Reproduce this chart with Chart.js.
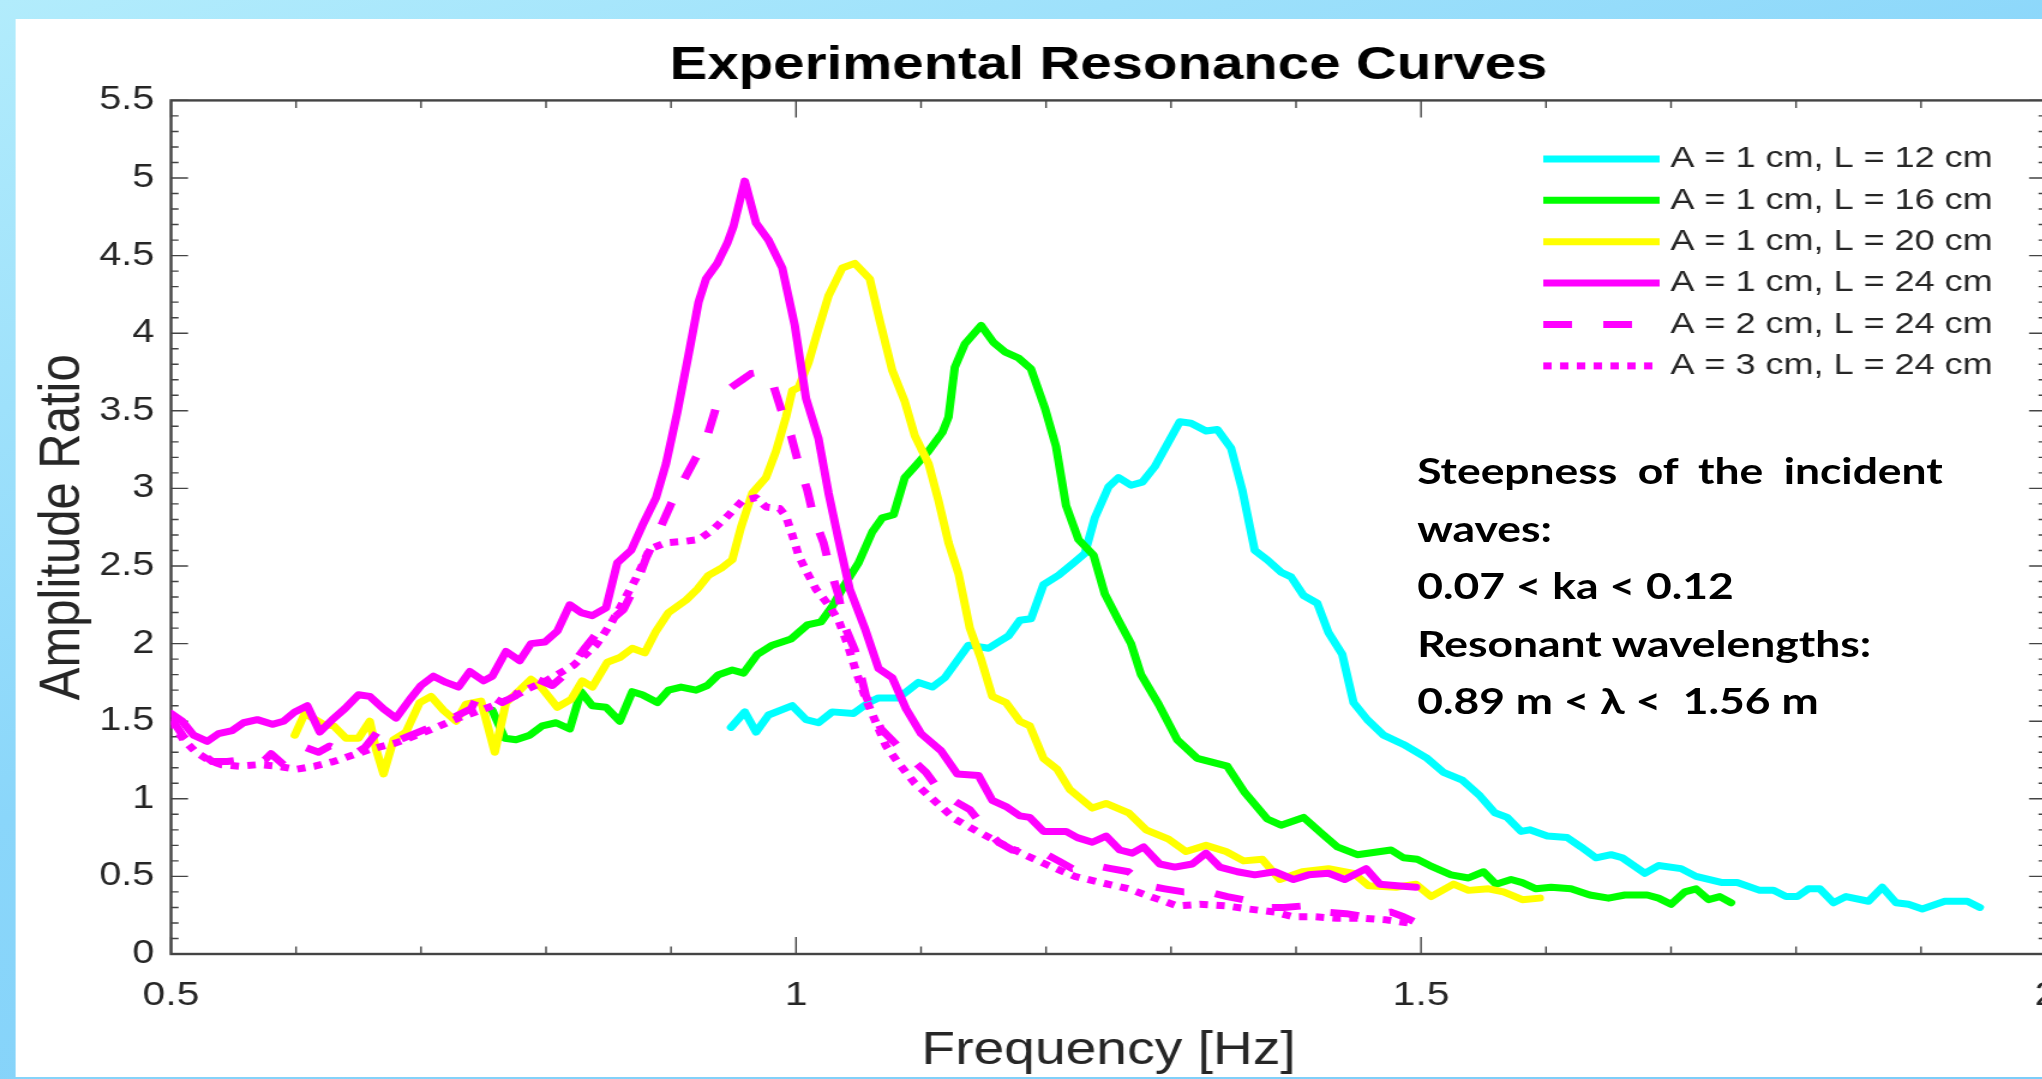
<!DOCTYPE html>
<html>
<head>
<meta charset="utf-8">
<title>Experimental Resonance Curves</title>
<script src="https://cdn.jsdelivr.net/npm/chart.js@4.4.1/dist/chart.umd.min.js"></script>
<style>
    html, body { margin: 0; padding: 0; width: 2042px; height: 1079px; overflow: hidden; }
    body { background: linear-gradient(160deg, #b2ecfc 0%, #8ad6fa 45%, #7ccdf9 100%); }
    /* the source slide is stretched sideways, so the whole stage is too */
    #stage { position: absolute; left: 0; top: 0; width: 1705px; height: 1079px; transform: scaleX(1.2); transform-origin: 0 0; }
    #panel { position: absolute; left: 13.3px; top: 19px; width: 1700px; height: 1058px; background: #fff; }
    #cnv { position: absolute; left: 0; top: 0; }
    #note { position: absolute; left: 1181px; top: 441px; width: 438px; font-family: Lato, "Open Sans", sans-serif; font-weight: 700; font-size: 37px; line-height: 57.5px; color: #000; }
    #note .just { text-align: justify; text-align-last: justify; }
</style>
</head>
<body>
<div id="stage">
    <div id="panel"></div>
    <canvas id="cnv" width="1705" height="1079"></canvas>
    <div id="note">
        <div class="just">Steepness of the incident</div>
        <div>waves:</div>
        <div>0.07 &lt; ka &lt; 0.12</div>
        <div>Resonant wavelengths:</div>
        <div>0.89 m &lt; &#955; &lt;&nbsp; 1.56 m</div>
    </div>
</div>
<script>
//--------------------------------------
// Data (frequency in Hz, amplitude ratio)
//--------------------------------------
var seriesLabels = [
    "A = 1 cm, L = 12 cm",
    "A = 1 cm, L = 16 cm",
    "A = 1 cm, L = 20 cm",
    "A = 1 cm, L = 24 cm",
    "A = 2 cm, L = 24 cm",
    "A = 3 cm, L = 24 cm"
];

var freqL12 = [0.948,0.959,0.968,0.978,0.997,1.008,1.018,1.029,1.046,1.058,1.066,1.082,1.098,1.109,1.119,1.138,1.154,1.162,1.170,1.179,1.188,1.198,1.210,1.222,1.231,1.239,1.250,1.258,1.268,1.277,1.287,1.307,1.316,1.328,1.337,1.348,1.357,1.367,1.377,1.388,1.396,1.406,1.417,1.426,1.437,1.446,1.457,1.470,1.486,1.505,1.518,1.533,1.547,1.559,1.569,1.580,1.587,1.601,1.617,1.628,1.640,1.652,1.661,1.679,1.690,1.708,1.720,1.741,1.753,1.771,1.782,1.792,1.801,1.810,1.819,1.830,1.840,1.858,1.869,1.880,1.890,1.901,1.919,1.937,1.947];
var ampL12 = [1.46,1.56,1.43,1.54,1.60,1.51,1.49,1.56,1.55,1.62,1.65,1.65,1.75,1.72,1.78,1.99,1.97,2.01,2.05,2.15,2.16,2.38,2.44,2.52,2.58,2.81,3.01,3.07,3.02,3.04,3.14,3.43,3.42,3.37,3.38,3.26,2.99,2.60,2.54,2.46,2.43,2.31,2.26,2.07,1.93,1.62,1.51,1.41,1.35,1.26,1.17,1.12,1.02,0.91,0.88,0.79,0.80,0.76,0.75,0.69,0.62,0.64,0.62,0.52,0.57,0.55,0.50,0.46,0.46,0.41,0.41,0.37,0.37,0.42,0.42,0.33,0.37,0.34,0.43,0.33,0.32,0.29,0.34,0.34,0.30];

var freqL16 = [0.757,0.767,0.776,0.787,0.797,0.808,0.819,0.828,0.837,0.848,0.859,0.869,0.877,0.889,0.898,0.908,0.920,0.929,0.938,0.949,0.958,0.969,0.981,0.996,1.009,1.020,1.029,1.039,1.050,1.061,1.069,1.078,1.087,1.095,1.106,1.117,1.122,1.127,1.135,1.148,1.158,1.167,1.178,1.188,1.199,1.208,1.216,1.226,1.238,1.247,1.258,1.268,1.276,1.290,1.305,1.321,1.345,1.359,1.377,1.388,1.406,1.420,1.433,1.449,1.476,1.486,1.497,1.507,1.524,1.538,1.550,1.560,1.572,1.581,1.592,1.604,1.620,1.635,1.650,1.663,1.681,1.690,1.700,1.711,1.720,1.730,1.739,1.748];
var ampL16 = [1.57,1.39,1.38,1.41,1.47,1.49,1.45,1.69,1.60,1.59,1.50,1.69,1.67,1.62,1.70,1.72,1.70,1.73,1.80,1.83,1.81,1.93,1.99,2.03,2.12,2.14,2.24,2.38,2.52,2.72,2.81,2.83,3.07,3.14,3.24,3.36,3.46,3.78,3.93,4.05,3.94,3.88,3.84,3.77,3.52,3.27,2.89,2.67,2.57,2.32,2.15,2.00,1.80,1.61,1.38,1.26,1.21,1.04,0.87,0.83,0.88,0.78,0.69,0.64,0.67,0.62,0.61,0.57,0.51,0.49,0.53,0.45,0.48,0.46,0.42,0.43,0.42,0.38,0.36,0.38,0.38,0.36,0.32,0.40,0.42,0.35,0.37,0.33];

var freqL20 = [0.599,0.607,0.622,0.630,0.640,0.650,0.659,0.664,0.670,0.678,0.688,0.699,0.708,0.718,0.728,0.736,0.748,0.759,0.768,0.779,0.788,0.797,0.809,0.820,0.829,0.837,0.849,0.859,0.869,0.879,0.888,0.898,0.912,0.921,0.930,0.941,0.949,0.956,0.965,0.976,0.984,0.992,0.997,1.002,1.010,1.018,1.026,1.037,1.047,1.059,1.067,1.077,1.087,1.095,1.106,1.114,1.122,1.130,1.139,1.148,1.157,1.168,1.179,1.187,1.198,1.209,1.219,1.237,1.248,1.266,1.280,1.298,1.312,1.328,1.344,1.358,1.373,1.387,1.405,1.426,1.446,1.458,1.480,1.496,1.508,1.526,1.538,1.554,1.566,1.581,1.595];
var ampL20 = [1.41,1.55,1.48,1.47,1.39,1.39,1.50,1.32,1.16,1.38,1.43,1.62,1.66,1.57,1.50,1.61,1.63,1.30,1.62,1.70,1.77,1.71,1.59,1.64,1.76,1.72,1.88,1.91,1.97,1.94,2.08,2.20,2.28,2.35,2.44,2.49,2.54,2.75,2.97,3.07,3.24,3.46,3.63,3.65,3.81,4.03,4.24,4.42,4.45,4.35,4.08,3.76,3.56,3.34,3.16,2.92,2.65,2.45,2.10,1.90,1.66,1.62,1.50,1.47,1.26,1.19,1.06,0.94,0.97,0.91,0.80,0.74,0.66,0.70,0.66,0.60,0.61,0.48,0.53,0.55,0.52,0.44,0.43,0.45,0.37,0.45,0.41,0.42,0.40,0.35,0.36];

var freqL24 = [0.500,0.509,0.518,0.529,0.538,0.549,0.558,0.569,0.581,0.590,0.599,0.609,0.619,0.629,0.639,0.650,0.659,0.670,0.680,0.691,0.700,0.710,0.720,0.730,0.739,0.750,0.757,0.768,0.779,0.788,0.799,0.809,0.819,0.828,0.837,0.848,0.857,0.868,0.877,0.888,0.896,0.905,0.914,0.922,0.928,0.937,0.945,0.950,0.959,0.968,0.978,0.989,0.999,1.008,1.018,1.026,1.034,1.043,1.055,1.066,1.077,1.088,1.100,1.116,1.129,1.146,1.157,1.168,1.179,1.187,1.198,1.216,1.225,1.237,1.248,1.259,1.269,1.278,1.291,1.303,1.317,1.328,1.339,1.353,1.367,1.383,1.398,1.410,1.426,1.439,1.456,1.467,1.481,1.496];
var ampL24 = [1.55,1.50,1.41,1.37,1.42,1.44,1.49,1.51,1.48,1.50,1.56,1.60,1.43,1.51,1.58,1.67,1.66,1.58,1.52,1.64,1.73,1.79,1.75,1.72,1.82,1.76,1.79,1.95,1.89,2.00,2.01,2.08,2.25,2.20,2.18,2.23,2.52,2.60,2.76,2.94,3.16,3.49,3.86,4.20,4.35,4.45,4.58,4.69,4.98,4.71,4.60,4.42,4.05,3.58,3.32,2.97,2.67,2.35,2.10,1.84,1.78,1.58,1.42,1.31,1.16,1.15,0.99,0.95,0.89,0.88,0.79,0.79,0.75,0.72,0.76,0.67,0.65,0.69,0.58,0.56,0.58,0.65,0.56,0.53,0.51,0.53,0.48,0.51,0.52,0.48,0.55,0.45,0.44,0.43];

var freqA2L24 = [0.500,0.510,0.520,0.533,0.545,0.555,0.565,0.575,0.580,0.590,0.600,0.608,0.618,0.627,0.636,0.645,0.655,0.667,0.675,0.683,0.695,0.710,0.725,0.740,0.747,0.756,0.765,0.775,0.787,0.796,0.805,0.815,0.830,0.843,0.852,0.862,0.872,0.880,0.890,0.900,0.910,0.920,0.928,0.936,0.948,0.957,0.964,0.972,0.980,0.988,0.996,1.002,1.009,1.014,1.022,1.027,1.034,1.038,1.047,1.052,1.056,1.068,1.084,1.104,1.116,1.128,1.139,1.152,1.162,1.173,1.185,1.196,1.210,1.221,1.230,1.239,1.252,1.266,1.274,1.281,1.295,1.310,1.320,1.330,1.345,1.358,1.365,1.372,1.390,1.406,1.414,1.422,1.440,1.455,1.466,1.476,1.486,1.494];
var ampA2L24 = [1.52,1.40,1.32,1.24,1.24,1.25,1.23,1.25,1.29,1.22,1.26,1.33,1.30,1.34,1.31,1.28,1.33,1.45,1.42,1.38,1.42,1.47,1.52,1.58,1.69,1.66,1.62,1.66,1.79,1.76,1.73,1.80,1.96,2.09,2.15,2.22,2.38,2.55,2.72,2.90,3.05,3.20,3.31,3.52,3.65,3.70,3.74,3.75,3.71,3.51,3.34,3.16,2.99,2.82,2.65,2.49,2.31,2.13,1.96,1.79,1.66,1.45,1.32,1.17,1.04,0.98,0.93,0.80,0.72,0.67,0.66,0.66,0.60,0.55,0.56,0.57,0.55,0.53,0.48,0.44,0.42,0.40,0.40,0.40,0.37,0.35,0.33,0.30,0.30,0.31,0.29,0.27,0.26,0.24,0.26,0.27,0.24,0.21];

var freqA3L24 = [0.500,0.510,0.520,0.530,0.540,0.555,0.570,0.585,0.600,0.615,0.630,0.645,0.660,0.680,0.700,0.715,0.730,0.751,0.770,0.786,0.800,0.822,0.840,0.852,0.859,0.872,0.883,0.896,0.912,0.922,0.933,0.945,0.957,0.968,0.976,0.987,0.992,0.997,1.002,1.008,1.016,1.026,1.034,1.041,1.048,1.056,1.064,1.072,1.082,1.095,1.109,1.127,1.145,1.162,1.180,1.202,1.223,1.244,1.266,1.287,1.305,1.323,1.344,1.362,1.383,1.398,1.415,1.433,1.455,1.472,1.490];
var ampA3L24 = [1.50,1.38,1.30,1.25,1.22,1.21,1.22,1.21,1.19,1.21,1.24,1.28,1.32,1.36,1.42,1.47,1.52,1.58,1.64,1.71,1.76,1.86,1.99,2.13,2.23,2.42,2.61,2.65,2.66,2.67,2.73,2.82,2.92,2.94,2.88,2.87,2.82,2.70,2.57,2.47,2.35,2.25,2.15,2.00,1.82,1.64,1.49,1.34,1.23,1.10,1.00,0.87,0.79,0.72,0.65,0.57,0.50,0.46,0.42,0.36,0.31,0.32,0.31,0.29,0.27,0.24,0.24,0.23,0.23,0.22,0.20];

var seriesColors = ["#00ffff", "#00ff00", "#ffff00", "#ff00ff", "#ff00ff", "#ff00ff"];
var seriesDashes = [[], [], [], [], [24, 26], [7, 7]];

(function(win){
    var stretch = 1.2;          // sideways stretch of the stage
    var lineW = 7;
    var axisColor = "#444444";
    var textColor = "#262626";
    var majorTick = 17, minorTick = 7.5;

    Chart.defaults.font.family = '"Liberation Sans", Arial, Helvetica, sans-serif';

    var init = function(){
        setChart();
    };

    //--------------------------------------
    // Plugins
    //--------------------------------------
    // box around the plot and inward ticks on all four sides
    var frameTicks = {
        id: 'frameTicks',
        beforeDatasetsDraw: function(chart){
            var ctx = chart.ctx;
            var area = chart.chartArea;
            var xs = chart.scales.x;
            var ys = chart.scales.y;
            var i, px, py, len;
            var nx = Math.round((xs.max - xs.min) / 0.1);
            var ny = Math.round((ys.max - ys.min) / 0.1);

            ctx.save();
            ctx.strokeStyle = axisColor;
            ctx.lineWidth = 1.4;
            ctx.beginPath();
            for(i = 0; i <= nx; i++){
                px = xs.getPixelForValue(xs.min + i * 0.1);
                len = (i % 5 === 0) ? majorTick : minorTick;
                ctx.moveTo(px, area.bottom); ctx.lineTo(px, area.bottom - len);
                ctx.moveTo(px, area.top); ctx.lineTo(px, area.top + len);
            }
            for(i = 0; i <= ny; i++){
                py = ys.getPixelForValue(ys.min + i * 0.1);
                len = ((i % 5 === 0) ? majorTick : minorTick) / stretch;
                ctx.moveTo(area.left, py); ctx.lineTo(area.left + len, py);
                ctx.moveTo(area.right, py); ctx.lineTo(area.right - len, py);
            }
            ctx.stroke();
            ctx.lineWidth = 2.4;
            ctx.strokeRect(area.left, area.top, area.right - area.left, area.bottom - area.top);
            ctx.restore();
        }
    };

    // legend without a box, top right inside the axes
    var boxLegend = {
        id: 'boxLegend',
        afterDatasetsDraw: function(chart){
            var ctx = chart.ctx;
            var area = chart.chartArea;
            var x0 = area.right - 419;
            var sample = 97;
            ctx.save();
            chart.data.datasets.forEach(function(ds, i){
                var y = area.top + 58.5 + i * 41.4;
                ctx.strokeStyle = ds.borderColor;
                ctx.lineWidth = ds.borderWidth;
                ctx.lineCap = 'butt';
                ctx.setLineDash(ds.borderDash);
                ctx.beginPath();
                ctx.moveTo(x0, y);
                ctx.lineTo(x0 + sample, y);
                ctx.stroke();
                ctx.setLineDash([]);
                ctx.fillStyle = textColor;
                ctx.font = '30px "Liberation Sans", Arial, sans-serif';
                ctx.textBaseline = 'middle';
                ctx.textAlign = 'left';
                ctx.fillText(ds.label, x0 + sample + 9, y);
            });
            ctx.restore();
        }
    };

    //--------------------------------------
    // Workers
    //--------------------------------------
    var makeSet = function(idx, freq, amp){
        var pts = [];
        var n = Math.min(freq.length, amp.length);
        for(var i = 0; i < n; i++){
            pts.push({x: freq[i], y: amp[i]});
        }
        var dash = seriesDashes[idx];
        return {
            label: seriesLabels[idx],
            data: pts,
            borderColor: seriesColors[idx],
            backgroundColor: seriesColors[idx],
            borderWidth: lineW,
            borderDash: dash,
            borderCapStyle: dash.length ? 'butt' : 'round',
            borderJoinStyle: 'round',
            pointRadius: 0,
            fill: false,
            tension: 0,
            order: 5 - idx
        };
    };

    var plainNum = function(v){
        return String(v);
    };

    var setChart = function(){
        var cnv = document.getElementById('cnv');
        var chart = new Chart(cnv, {
            type: 'line',
            data: {
                datasets: [
                    makeSet(0, freqL12, ampL12),
                    makeSet(1, freqL16, ampL16),
                    makeSet(2, freqL20, ampL20),
                    makeSet(3, freqL24, ampL24),
                    makeSet(4, freqA2L24, ampA2L24),
                    makeSet(5, freqA3L24, ampA3L24)
                ]
            },
            options: {
                responsive: false,
                animation: false,
                events: [],
                layout: { padding: 0 },
                plugins: {
                    legend: { display: false },
                    tooltip: { enabled: false },
                    title: {
                        display: true,
                        text: 'Experimental Resonance Curves',
                        fullSize: false,
                        color: '#000',
                        font: { size: 47, weight: 'bold' },
                        padding: { top: 38, bottom: 6 }
                    }
                },
                scales: {
                    x: {
                        type: 'linear',
                        position: 'bottom',
                        min: 0.5,
                        max: 2,
                        grid: { display: false, drawTicks: false },
                        border: { display: false },
                        ticks: { stepSize: 0.5, padding: 21, color: textColor, font: { size: 34 }, maxRotation: 0, autoSkip: false, callback: plainNum },
                        title: { display: true, text: 'Frequency [Hz]', color: textColor, font: { size: 46 }, padding: { top: 0, bottom: 0 } },
                        afterFit: function(scale){
                            scale.height = 125;
                            scale.paddingLeft = 0;
                            scale.paddingRight = 0;
                        }
                    },
                    y: {
                        type: 'linear',
                        position: 'left',
                        min: 0,
                        max: 5.5,
                        grid: { display: false, drawTicks: false },
                        border: { display: false },
                        ticks: { stepSize: 0.5, padding: 14, color: textColor, font: { size: 33 }, callback: plainNum },
                        title: { display: true, text: 'Amplitude Ratio', color: textColor, font: { size: 49 }, padding: { top: 23, bottom: 0 } },
                        afterFit: function(scale){
                            scale.width = 142.5;
                            scale.paddingTop = 0;
                            scale.paddingBottom = 0;
                        }
                    }
                }
            },
            plugins: [frameTicks, boxLegend]
        });
    };

    init();
})(window);
</script>
</body>
</html>
